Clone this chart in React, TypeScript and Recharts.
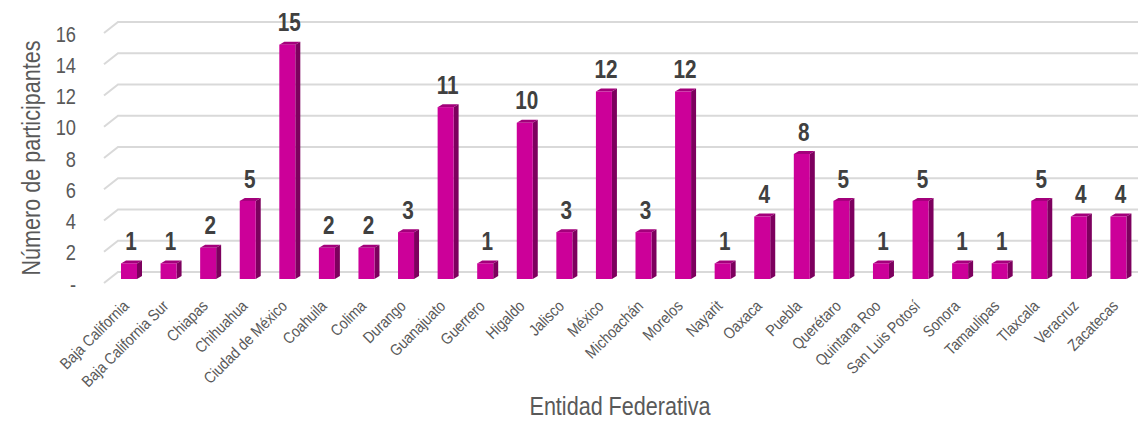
import { BarChart, Bar, XAxis, YAxis, CartesianGrid, Label } from "recharts";

const estados = [
  "Baja California", "Baja California Sur", "Chiapas", "Chihuahua", "Ciudad de México",
  "Coahuila", "Colima", "Durango", "Guanajuato", "Guerrero", "Higaldo", "Jalisco",
  "México", "Michoachán", "Morelos", "Nayarit", "Oaxaca", "Puebla", "Querétaro",
  "Quintana Roo", "San Luis Potosí", "Sonora", "Tamaulipas", "Tlaxcala", "Veracruz", "Zacatecas",
];
const participantes = [1, 1, 2, 5, 15, 2, 2, 3, 11, 1, 10, 3, 12, 3, 12, 1, 4, 8, 5, 1, 5, 1, 1, 5, 4, 4];
const yTicks = [0, 2, 4, 6, 8, 10, 12, 14, 16];

const data = estados.map((name, i) => ({ name, value: participantes[i] }));

// no Arial Narrow here, so squeeze Liberation Sans horizontally
const FONT = "'Liberation Sans', Arial, sans-serif";
const NARROW = 0.83;
const TEXT = "#595959";

// fake 3D bar: front face, top face, right side + value label
const Bar3D = (props: any) => {
  const { x, y, width, height, value } = props;
  const sh = 5; // bars sit a bit behind the front plane
  const dx = 5;
  const dy = 3;
  const fx = x;
  const fy = y - sh;
  const fb = y + height - sh;
  const lx = fx + width / 2 + 2;
  const ly = fy - 22;
  return (
    <g>
      <polygon points={`${fx},${fy} ${fx + dx},${fy - dy} ${fx + width + dx},${fy - dy} ${fx + width},${fy}`} fill="#a3007b" />
      <polygon points={`${fx + width},${fy} ${fx + width + dx},${fy - dy} ${fx + width + dx},${fb - dy} ${fx + width},${fb}`} fill="#7d005e" />
      <rect x={fx} y={fy} width={width} height={fb - fy} fill="#cc0099" />
      <text transform={`translate(${lx}, ${ly}) scale(${NARROW}, 1)`} textAnchor="middle" dominantBaseline="central"
        fontFamily={FONT} fontWeight="bold" fontSize={25} fill="#404040">
        {value}
      </text>
    </g>
  );
};

const gridLine = (props: any) => {
  const { y1, x2, key } = props;
  const left = 104;
  return (
    <path key={key} d={`M${left},${y1 - 1} L${left + 14},${y1 - 12} L${x2},${y1 - 12}`}
      stroke="#d9d9d9" strokeWidth={2} fill="none" />
  );
};

const YTick = (props: any) => {
  const { y, payload } = props;
  return (
    <text transform={`translate(76, ${y}) scale(${NARROW}, 1)`} textAnchor="end" dominantBaseline="central"
      fontFamily={FONT} fontSize={22} fill={TEXT}>
      {payload.value === 0 ? "-" : payload.value}
    </text>
  );
};

const XTick = (props: any) => {
  const { x, y, payload } = props;
  const ax = x + 1;
  const ay = y + 15;
  return (
    <text transform={`translate(${ax}, ${ay}) rotate(-45) scale(0.86, 1)`} textAnchor="end"
      fontFamily={FONT} fontSize={16} fill={TEXT}>
      {payload.value}
    </text>
  );
};

export default function App() {
  return (
    <div style={{ position: "absolute", left: 0, top: 0, background: "#fff" }}>
      <BarChart width={1138} height={421} data={data} margin={{ top: 34, right: 0, bottom: 0, left: 0 }}>
        <CartesianGrid vertical={false} horizontal={gridLine} />
        <XAxis dataKey="name" interval={0} height={137} axisLine={false} tickLine={false} tick={<XTick />}>
          <Label content={() => (
            <text transform={`translate(620, 406) scale(${NARROW}, 1)`} textAnchor="middle" dominantBaseline="central"
              fontFamily={FONT} fontSize={26} fill={TEXT}>
              Entidad Federativa
            </text>
          )} />
        </XAxis>
        <YAxis width={109} domain={[0, 16]} ticks={yTicks} axisLine={false} tickLine={false} tick={<YTick />}>
          <Label content={() => (
            <text transform={`translate(31, 158) rotate(-90) scale(${NARROW}, 1)`} textAnchor="middle" dominantBaseline="central"
              fontFamily={FONT} fontSize={26} fill={TEXT}>
              Número de participantes
            </text>
          )} />
        </YAxis>
        <Bar dataKey="value" barSize={16} shape={<Bar3D />} isAnimationActive={false} />
      </BarChart>
    </div>
  );
}
